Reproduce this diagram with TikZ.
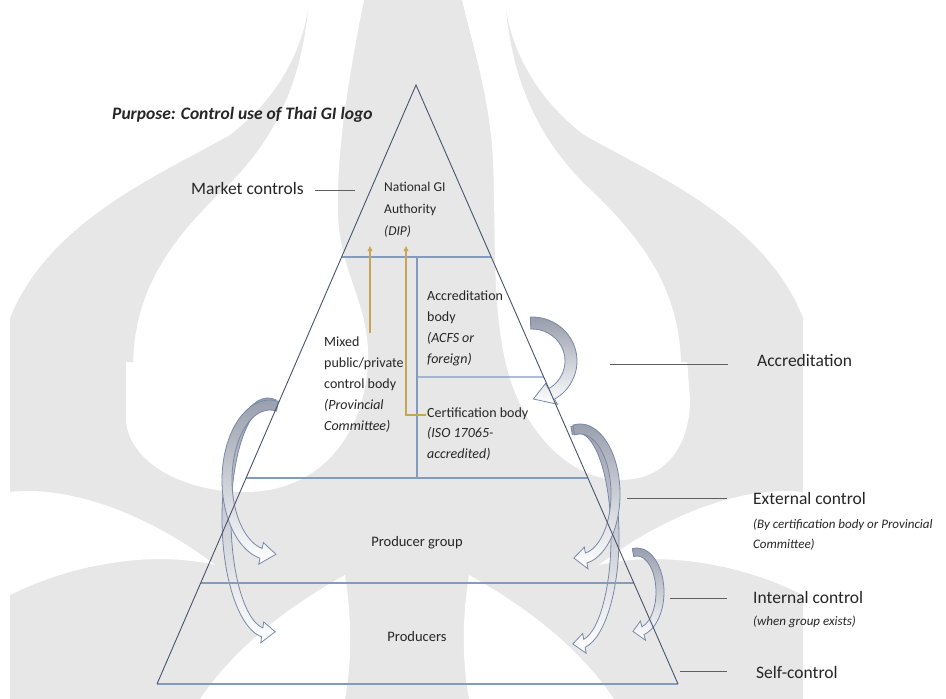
\documentclass[tikz,border=0pt]{standalone}
\usepackage{fontspec}
\setmainfont{Carlito}
\usetikzlibrary{arrows.meta,calc}
\definecolor{wm}{RGB}{231,231,231}
\definecolor{edge}{RGB}{72,84,108}
\definecolor{band}{RGB}{132,155,188}
\definecolor{gold}{RGB}{200,165,85}
\definecolor{arrline}{RGB}{120,136,168}
\definecolor{arrfill}{RGB}{150,156,170}
\definecolor{leadc}{RGB}{95,95,95}
\definecolor{txt}{RGB}{38,38,38}
% curved block arrow: center, start, base, tip, Rox, Roy, Rix, Riy
\newcommand\CArrow[8]{%
  \path[carrow,shift={(#1)}] (#2:#5 and #6)
    arc[start angle=#2, end angle=#3, x radius=#5, y radius=#6]
    -- (#3:{#5+6} and {#6+6}) -- (#4:{(#5+#7)/2} and {(#6+#8)/2})
    -- (#3:{#7-6} and {#8-6}) -- (#3:#7 and #8)
    arc[start angle=#3, end angle=#2, x radius=#7, y radius=#8] -- cycle;}
\begin{document}
\begin{tikzpicture}[x=1pt,y=-1pt,
  tri/.style={draw=edge, line width=0.9pt},
  level/.style={draw=band, line width=1.4pt},
  goldln/.style={draw=gold, line width=1.1pt, -{Triangle[length=5pt,width=4.5pt]}},
  carrow/.style={draw=arrline, line width=0.8pt, top color=arrfill, bottom color=white},
  leader/.style={draw=leadc, line width=1pt},
  intext/.style={font=\fontsize{14}{21}\selectfont, text=txt, align=left, inner sep=0pt},
  big/.style={font=\fontsize{17.5}{21}\selectfont, text=txt, inner sep=0pt},
  small/.style={font=\fontsize{13}{20}\selectfont\itshape, text=txt, align=left, inner sep=0pt}]
\useasboundingbox (0,0) rectangle (946,699);
\fill[white] (0,0) rectangle (946,699);
% ---------- watermark ----------
\fill[wm] (10,0) rectangle (803,699);
\fill[white] (10,0) -- (364,0) .. controls (350,70) and (336,150) .. (338,215)
  .. controls (340,270) and (366,300) .. (368,350)
  .. controls (370,420) and (330,492) .. (245,492)
  .. controls (180,492) and (128,460) .. (126,420) -- (126,345) -- (10,325) -- cycle;
\fill[white] (803,0) -- (462,0) .. controls (474,50) and (490,100) .. (493,160)
  .. controls (496,240) and (492,300) .. (505,360)
  .. controls (520,430) and (570,480) .. (620,480)
  .. controls (670,480) and (690,440) .. (690,400) -- (686,345) -- (803,325) -- cycle;
\fill[wm] (308,10) .. controls (300,60) and (270,105) .. (230,135)
  .. controls (160,175) and (50,220) .. (10,318) -- (10,362) -- (133,362)
  .. controls (135,290) and (170,240) .. (225,188)
  .. controls (270,145) and (300,90) .. (308,10) -- cycle;
\fill[wm] (506,10) .. controls (514,60) and (544,105) .. (584,135)
  .. controls (654,175) and (764,220) .. (803,318) -- (803,362) -- (681,362)
  .. controls (679,290) and (644,240) .. (589,188)
  .. controls (544,145) and (514,90) .. (506,10) -- cycle;
\fill[white] (10,492) .. controls (70,485) and (150,515) .. (215,565)
  .. controls (150,550) and (70,565) .. (10,595) -- cycle;
\fill[white] (803,492) .. controls (744,485) and (664,515) .. (599,565)
  .. controls (664,550) and (744,565) .. (803,595) -- cycle;
\fill[white] (200,699) .. controls (240,640) and (300,600) .. (345,575)
  .. controls (352,620) and (352,660) .. (345,699) -- cycle;
\fill[white] (614,699) .. controls (574,640) and (514,600) .. (469,575)
  .. controls (462,620) and (462,660) .. (469,699) -- cycle;
% ---------- geometry ----------
\coordinate (A) at (416,85);
\coordinate (BL) at (157,684);
\coordinate (BR) at (678,684);
% ---------- curved arrows ----------
\CArrow{532,361}{-92}{60}{88}{45}{44}{33}{32}
\CArrow{268,518}{-80}{-262}{-280}{46}{120}{37}{111}
\CArrow{270,480}{-80}{-258}{-278}{48}{80}{38}{70}
\CArrow{578,537}{-100}{80}{98}{41}{112}{33}{104}
\CArrow{580,494}{-100}{80}{100}{40}{70}{31}{60}
\CArrow{637,592}{-100}{75}{100}{27}{44}{19}{36}
% ---------- pyramid ----------
\draw[level] ($(A)!0.2871!(BL)$) -- ($(A)!0.2871!(BR)$);
\draw[level] (417,257) -- (417,478);
\draw[level] (417,377) -- ($(A)!0.4875!(BR)$);
\draw[level] ($(A)!0.6561!(BL)$) -- ($(A)!0.6561!(BR)$);
\draw[level] ($(A)!0.8314!(BL)$) -- ($(A)!0.8314!(BR)$);
\draw[level] (BL) -- (BR);
\draw[tri] (BL) -- (A) -- (BR);
% ---------- gold connectors ----------
\coordinate (g1s) at (370,333);
\coordinate (g1e) at (370,246);
\coordinate (g2s) at (426,415);
\coordinate (g2e) at (406,246);
\draw[goldln] (g1s) -- (g1e);
\draw[goldln] (g2s) -| (g2e);
% ---------- texts (multi-line nodes anchored at last baseline) ----------
\node[big, font=\fontsize{17.5}{21}\selectfont\bfseries\itshape, anchor=base west] (purpose) at (112,119) {Purpose: Control use of Thai GI logo};
\node[big, anchor=base east] (market) at (304,194) {Market controls};
\node[intext, font=\fontsize{13.5}{22}\selectfont, anchor=base west] (nga) at (384,235) {National GI\\Authority\\\textit{(DIP)}};
\node[intext, anchor=base west] (acb) at (427,363) {Accreditation\\body\\\textit{(ACFS or}\\\textit{foreign)}};
\node[intext, font=\fontsize{14}{20.8}\selectfont, anchor=base west] (mixed) at (324,430) {Mixed\\public/private\\control body\\\textit{(Provincial}\\\textit{Committee)}};
\node[intext, font=\fontsize{14}{20.5}\selectfont, anchor=base west] (cert) at (427,458) {Certification body\\\textit{(ISO 17065-}\\\textit{accredited)}};
\node[intext, font=\fontsize{14.5}{21}\selectfont] (pg) at (417,543) {Producer group};
\node[intext, font=\fontsize{14.5}{21}\selectfont] (prod) at (417,637) {Producers};
\node[big, anchor=base west] (lacc) at (757,366) {Accreditation};
\node[big, anchor=base west] (lext) at (753,504) {External control};
\node[small, anchor=base west] (lexts) at (753,548) {(By certification body or Provincial\\Committee)};
\node[big, anchor=base west] (lint) at (753,603) {Internal control};
\node[small, anchor=base west] (lints) at (753,625) {(when group exists)};
\node[big, anchor=base west] (lself) at (756,678) {Self-control};
% ---------- leader lines ----------
\coordinate (m1) at (315,190); \coordinate (m2) at (355,190);
\coordinate (a1) at (610,364); \coordinate (a2) at (728,364);
\coordinate (e1) at (627,498); \coordinate (e2) at (727,498);
\coordinate (i1) at (670,598); \coordinate (i2) at (727,598);
\coordinate (s1) at (680,671); \coordinate (s2) at (727,671);
\draw[leader] (m1) -- (m2);
\draw[leader] (a1) -- (a2);
\draw[leader] (e1) -- (e2);
\draw[leader] (i1) -- (i2);
\draw[leader] (s1) -- (s2);
\end{tikzpicture}
\end{document}
